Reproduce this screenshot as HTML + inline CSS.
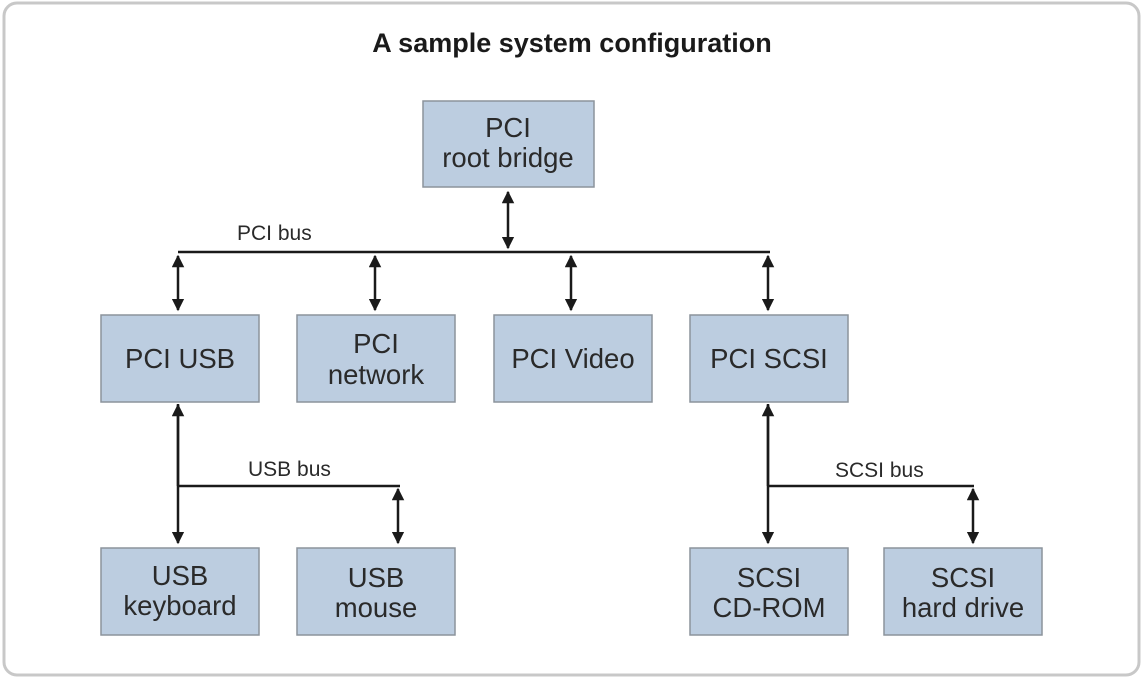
<!DOCTYPE html>
<html><head><meta charset="utf-8"><style>
html,body{margin:0;padding:0;background:#fff;}
svg{display:block;font-family:"Liberation Sans",sans-serif;}
</style></head><body>
<svg width="1143" height="679" viewBox="0 0 1143 679" xmlns="http://www.w3.org/2000/svg">
<defs>
<marker id="a" viewBox="0 0 10 10" refX="9" refY="5" markerWidth="5" markerHeight="5" orient="auto-start-reverse" markerUnits="strokeWidth">
<path d="M0,0 L10,5 L0,10 z" fill="#1a1a1a"/></marker>
</defs>
<rect x="4" y="3" width="1135" height="672" rx="13" fill="#fff" stroke="#c8c8c8" stroke-width="3"/>
<text x="572" y="52" text-anchor="middle" font-size="27" font-weight="bold" fill="#1a1a1a">A sample system configuration</text>
<g fill="#bccde0" stroke="#8c939c" stroke-width="1.5">
<rect x="423" y="101" width="171" height="86"/>
<rect x="101" y="315" width="158" height="87"/>
<rect x="297" y="315" width="158" height="87"/>
<rect x="494" y="315" width="158" height="87"/>
<rect x="690" y="315" width="158" height="87"/>
<rect x="101" y="548" width="158" height="87"/>
<rect x="297" y="548" width="158" height="87"/>
<rect x="690" y="548" width="158" height="87"/>
<rect x="884" y="548" width="158" height="87"/>
</g>
<g font-size="27.5" fill="#2a2a2a" text-anchor="middle">
<text x="508" y="137">PCI</text><text x="508" y="167">root bridge</text>
<text x="180" y="368">PCI USB</text>
<text x="376" y="353">PCI</text><text x="376" y="384">network</text>
<text x="573" y="368">PCI Video</text>
<text x="769" y="368">PCI SCSI</text>
<text x="180" y="585">USB</text><text x="180" y="615">keyboard</text>
<text x="376" y="587">USB</text><text x="376" y="617">mouse</text>
<text x="769" y="587">SCSI</text><text x="769" y="617">CD-ROM</text>
<text x="963" y="587">SCSI</text><text x="963" y="617">hard drive</text>
</g>
<g font-size="21" fill="#2a2a2a">
<text x="237" y="240">PCI bus</text>
<text x="248" y="476">USB bus</text>
<text x="835" y="477">SCSI bus</text>
</g>
<g stroke="#1a1a1a" stroke-width="2.5" fill="none">
<line x1="178" y1="252" x2="770" y2="252"/>
<line x1="178" y1="486" x2="400" y2="486"/>
<line x1="768" y1="486" x2="974" y2="486"/>
<line x1="178" y1="404" x2="178" y2="486"/>
<line x1="768" y1="404" x2="768" y2="486"/>
</g>
<g stroke="#1a1a1a" stroke-width="2.5" marker-start="url(#a)" marker-end="url(#a)">
<line x1="508" y1="192" x2="508" y2="248"/>
<line x1="178" y1="256" x2="178" y2="310"/>
<line x1="375" y1="256" x2="375" y2="310"/>
<line x1="571" y1="256" x2="571" y2="310"/>
<line x1="768" y1="256" x2="768" y2="310"/>
<line x1="178" y1="405" x2="178" y2="543"/>
<line x1="398" y1="489" x2="398" y2="543"/>
<line x1="768" y1="405" x2="768" y2="543"/>
<line x1="973" y1="489" x2="973" y2="543"/>
</g>
</svg>
</body></html>
